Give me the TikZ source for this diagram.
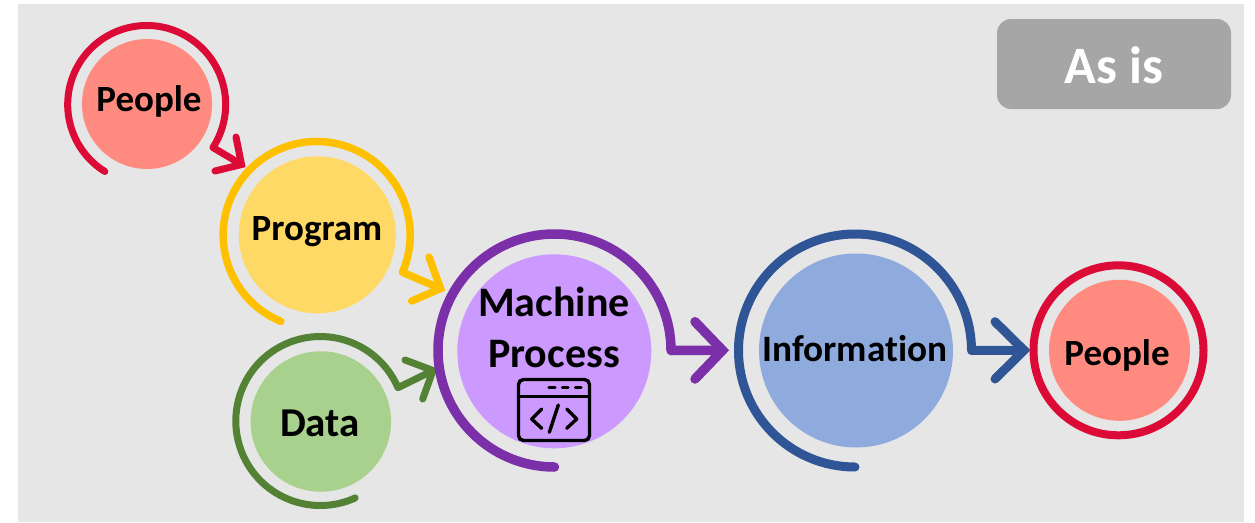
\documentclass[tikz,border=0pt]{standalone}
\usepackage{fontspec}
\setmainfont{Carlito}[Ligatures=NoCommon]
\usetikzlibrary{calc}
\definecolor{bgc}{HTML}{E6E6E6}
\definecolor{boxc}{HTML}{A6A6A6}
\definecolor{redc}{HTML}{DC0A36}
\definecolor{redf}{HTML}{FF8B80}
\definecolor{yelc}{HTML}{FFC000}
\definecolor{yelf}{HTML}{FFD966}
\definecolor{grnc}{HTML}{548235}
\definecolor{grnf}{HTML}{A9D18E}
\definecolor{purc}{HTML}{7B2FA8}
\definecolor{purf}{HTML}{CC99FF}
\definecolor{bluc}{HTML}{2F5597}
\definecolor{bluf}{HTML}{8FAADC}
\tikzset{
  disc/.style={circle,inner sep=0pt,outer sep=0pt,draw=none},
  ringline/.style={line cap=round,line join=round,fill=none},
  tipline/.style={line cap=round,line join=miter,miter limit=4,fill=none},
  lab/.style={inner sep=0pt,outer sep=0pt,text=black,align=center},
  iconline/.style={draw=black,line width=3.4pt,line cap=round,line join=round,fill=none}
}
\begin{document}
\begin{tikzpicture}[x=1pt,y=-1pt]
\useasboundingbox (0,0) rectangle (1255,522);
\fill[white] (0,0) rectangle (1255,522);
\fill[bgc] (18,4) rectangle (1244,522);
% status box
\node[draw=none,fill=boxc,rounded corners=14pt,minimum width=234pt,minimum height=90pt,inner sep=0pt,outer sep=0pt] (asis) at (1114,64) {};
\node[lab,text=white,font=\fontsize{52.5}{52.5}\selectfont\bfseries] (asist) at (1114,65) {As is};
% discs
\node[disc,fill=redf,minimum size=130pt] (people) at (147,104) {};
\node[disc,fill=yelf,minimum size=157pt] (program) at (317.3,234.8) {};
\node[disc,fill=grnf,minimum size=140.5pt] (data) at (320.8,421.5) {};
\node[disc,fill=purf,minimum size=194pt] (machine) at (554.3,351.3) {};
\node[disc,fill=bluf,minimum size=194pt] (information) at (856,350.5) {};
\node[disc,fill=redf,minimum size=141pt] (peopleb) at (1119.5,350.3) {};
% labels
\node[lab,font=\fontsize{37}{37}\selectfont\bfseries] (peoplet) at (149,101) {People};
\node[lab,font=\fontsize{37}{37}\selectfont\bfseries] (programt) at (317,232) {Program};
\node[lab,font=\fontsize{41}{41}\selectfont\bfseries] (datat) at (320,423) {Data};
\node[lab,font=\fontsize{42}{51}\selectfont\bfseries] (machinet) at (554,327) {Machine\\Process};
\node[lab,font=\fontsize{37.3}{37.3}\selectfont\bfseries] (informationt) at (855,349) {Information};
\node[lab,font=\fontsize{37}{37}\selectfont\bfseries] (peoplebt) at (1117,355) {People};
% ring centres
\coordinate (pc) at (146.7,104.5);
\coordinate (gc) at (316.7,235);
\coordinate (dc) at (320.3,421);
\coordinate (mc) at (554.5,350.5);
\coordinate (ic) at (855,350.5);
% arrow tips and barbs
\coordinate (pt) at (241.5,164.5);
\coordinate (pb1) at (236,137);
\coordinate (pb2) at (215,171);
\coordinate (gt) at (440.5,288.5);
\coordinate (gb1) at (429,257);
\coordinate (gb2) at (411.7,301);
\coordinate (dt) at (433,370.5);
\coordinate (db1) at (405,360);
\coordinate (db2) at (422.7,399);
\coordinate (mt) at (722.5,350.3);
\coordinate (mb1) at (695,321.7);
\coordinate (mb2) at (695,379);
\coordinate (it) at (1024,350.3);
\coordinate (ib1) at (995,321.7);
\coordinate (ib2) at (995,379);
% rings with arrows
\draw[ringline,redc,line width=7pt] ($(pc)+(122:79)$) coordinate (ps) arc[start angle=122,end angle=393,radius=79] -- (pt);
\draw[tipline,redc,line width=7pt] (pb1) -- (pt) -- (pb2);
\draw[ringline,yelc,line width=7.5pt] ($(gc)+(112.5:93.5)$) coordinate (gs) arc[start angle=112.5,end angle=383.5,radius=93.5] -- (gt);
\draw[tipline,yelc,line width=7.5pt] (gb1) -- (gt) -- (gb2);
\draw[ringline,grnc,line width=7pt] ($(dc)+(65.6:84.5)$) coordinate (ds) arc[start angle=65.6,end angle=336.8,radius=84.5] -- (dt);
\draw[tipline,grnc,line width=7pt] (db1) -- (dt) -- (db2);
\draw[ringline,purc,line width=9.5pt] ($(mc)+(90:116.5)$) coordinate (ms) arc[start angle=90,end angle=360,radius=116.5] -- (mt);
\draw[tipline,purc,line width=9.5pt] (mb1) -- (mt) -- (mb2);
\draw[ringline,bluc,line width=9pt] ($(ic)+(90:116.5)$) coordinate (is) arc[start angle=90,end angle=360,radius=116.5] -- (it);
\draw[tipline,bluc,line width=9pt] (ib1) -- (it) -- (ib2);
\draw[redc,line width=8pt] (1118.5,350.3) circle[radius=85];
% code window icon
\draw[iconline,rounded corners=5pt] (518.5,379.5) rectangle (589.5,440.5);
\draw[iconline] (518.5,396.7) -- (589.5,396.7);
\draw[iconline] (549,387.7) -- (555,387.7) (562.5,387.7) -- (568,387.7) (575.5,387.7) -- (581,387.7);
\draw[iconline] (541.7,409) -- (531.7,419) -- (541.7,428.3);
\draw[iconline] (566.7,409) -- (576.7,419) -- (566.7,428.3);
\draw[iconline] (558.3,405) -- (549.3,432.3);
\end{tikzpicture}
\end{document}
